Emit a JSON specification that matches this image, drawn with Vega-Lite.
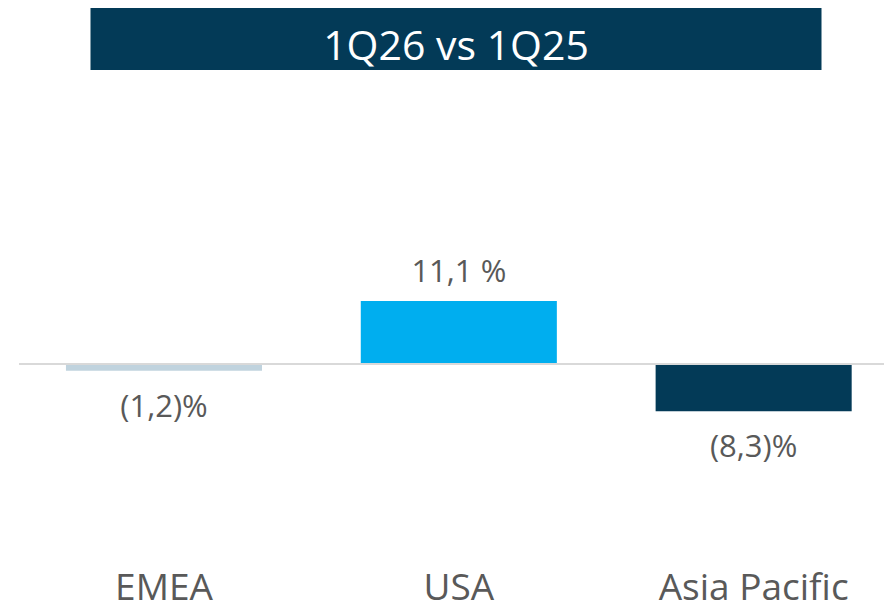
{
  "$schema": "https://vega.github.io/schema/vega-lite/v6.json",
  "padding": {"left": 18, "top": 8, "right": 0, "bottom": -6},
  "background": "white",
  "config": {"font": "Open Sans", "view": {"stroke": null}},
  "spacing": 10,
  "center": true,
  "vconcat": [
    {
      "width": 731,
      "height": 62,
      "view": {"fill": "#033a57", "stroke": null},
      "data": {"values": [{"title": "1Q26 vs 1Q25"}]},
      "mark": {"type": "text", "color": "white", "fontSize": 41, "font": "Open Sans", "baseline": "alphabetic", "align": "center", "dy": 21},
      "encoding": {"text": {"field": "title", "type": "nominal"}}
    },
    {
      "width": 873,
      "height": 480,
      "data": {
        "values": [
          {"region": "EMEA", "value": -1.2, "label": "(1,2)%"},
          {"region": "USA", "value": 11.1, "label": "11,1 %"},
          {"region": "Asia Pacific", "value": -8.3, "label": "(8,3)%"}
        ]
      },
      "layer": [
        {
          "mark": {"type": "bar"},
          "encoding": {
            "x": {"field": "region", "type": "nominal", "sort": ["EMEA", "USA", "Asia Pacific"],
              "scale": {"paddingInner": 0.335, "paddingOuter": 0.148, "align": 0.538},
              "axis": {"title": null, "domain": false, "ticks": false, "grid": false, "labelAngle": 0, "labelFontSize": 37, "labelFont": "Open Sans", "labelColor": "#595959", "labelPadding": 10, "labelLimit": 400}},
            "y": {"field": "value", "type": "quantitative", "scale": {"domain": [-34.5, 50], "nice": false, "zero": true}, "axis": null},
            "color": {"field": "region", "type": "nominal", "scale": {"domain": ["EMEA", "USA", "Asia Pacific"], "range": ["#c0d3de", "#00aeef", "#033a57"]}, "legend": null}
          }
        },
        {
          "data": {"values": [{"zero": 0}]},
          "mark": {"type": "rule", "color": "#d9d9d9", "strokeWidth": 2},
          "encoding": {
            "y": {"field": "zero", "type": "quantitative", "scale": {"domain": [-34.5, 50], "nice": false, "zero": true}, "axis": null}
          }
        },
        {
          "transform": [{"filter": "datum.value >= 0"}],
          "mark": {"type": "text", "fontSize": 31, "font": "Open Sans", "color": "#595959", "baseline": "alphabetic", "align": "center", "dy": -19},
          "encoding": {
            "x": {"field": "region", "type": "nominal", "sort": ["EMEA", "USA", "Asia Pacific"],
              "scale": {"paddingInner": 0.335, "paddingOuter": 0.148, "align": 0.538},
              "axis": {"title": null, "domain": false, "ticks": false, "grid": false, "labelAngle": 0, "labelFontSize": 37, "labelFont": "Open Sans", "labelColor": "#595959", "labelPadding": 10, "labelLimit": 400}},
            "y": {"field": "value", "type": "quantitative", "scale": {"domain": [-34.5, 50], "nice": false, "zero": true}, "axis": null},
            "text": {"field": "label", "type": "nominal"}
          }
        },
        {
          "transform": [{"filter": "datum.value < 0"}],
          "mark": {"type": "text", "fontSize": 31, "font": "Open Sans", "color": "#595959", "baseline": "alphabetic", "align": "center", "dy": 46},
          "encoding": {
            "x": {"field": "region", "type": "nominal", "sort": ["EMEA", "USA", "Asia Pacific"],
              "scale": {"paddingInner": 0.335, "paddingOuter": 0.148, "align": 0.538},
              "axis": {"title": null, "domain": false, "ticks": false, "grid": false, "labelAngle": 0, "labelFontSize": 37, "labelFont": "Open Sans", "labelColor": "#595959", "labelPadding": 10, "labelLimit": 400}},
            "y": {"field": "value", "type": "quantitative", "scale": {"domain": [-34.5, 50], "nice": false, "zero": true}, "axis": null},
            "text": {"field": "label", "type": "nominal"}
          }
        }
      ]
    }
  ]
}
